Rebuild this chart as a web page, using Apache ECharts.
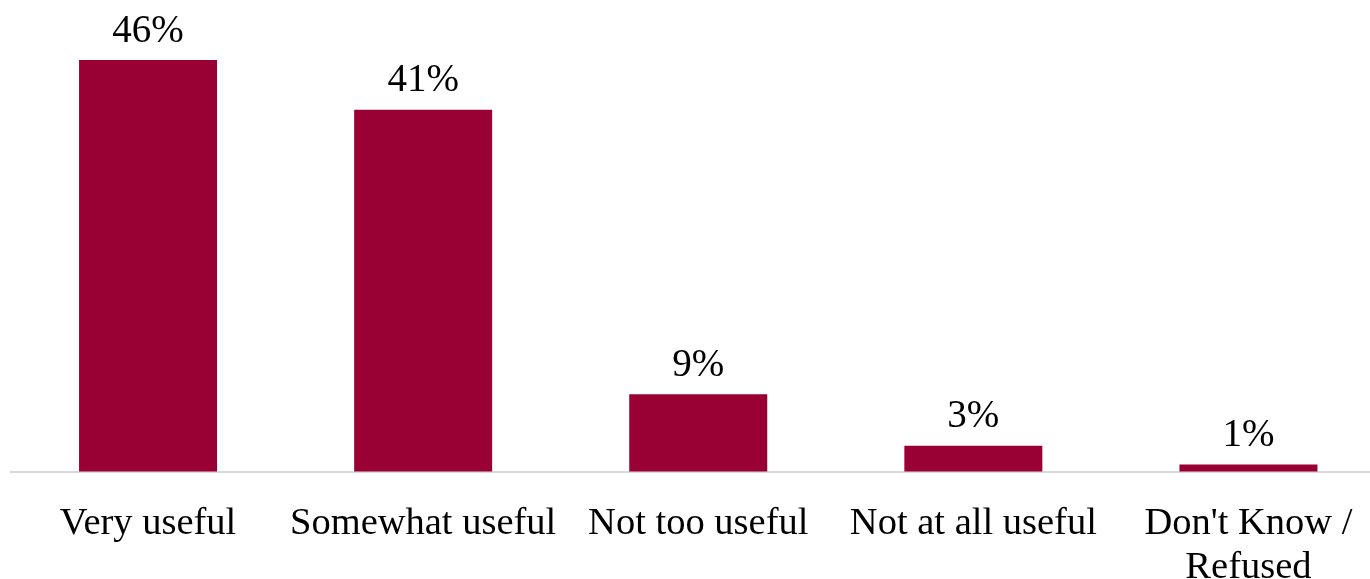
<!DOCTYPE html>
<html>
<head>
<meta charset="utf-8">
<script src="https://cdn.jsdelivr.net/npm/echarts@6/dist/echarts.min.js"></script>
<style>
html,body{margin:0;padding:0;background:#fff;overflow:hidden;width:1370px;height:579px;}
#chart{width:1370px;height:579px;}
</style>
</head>
<body>
<div id="chart"></div>
<script>
var categories = ["Very useful", "Somewhat useful", "Not too useful", "Not at all useful", "Don't Know /\nRefused"];
var values = [46.3, 40.7, 8.7, 2.9, 0.8];

var chart = echarts.init(document.getElementById('chart'), null, {renderer: 'canvas'});
var FONT = '"Liberation Serif", "Times New Roman", serif';
chart.setOption({
  animation: false,
  backgroundColor: '#ffffff',
  grid: {left: 10.5, width: 1375.5, top: 27, height: 444.5, containLabel: false, outerBoundsMode: 'none'},
  xAxis: {
    type: 'category',
    data: categories,
    axisLine: {show: true, lineStyle: {color: '#d9d9d9', width: 2}},
    axisTick: {show: false},
    axisLabel: {
      interval: 0,
      margin: 30,
      color: '#000000',
      fontFamily: FONT,
      fontSize: 38.5,
      lineHeight: 44
    }
  },
  yAxis: {
    type: 'value',
    min: 0,
    max: 50,
    show: false,
    splitLine: {show: false}
  },
  series: [{
    type: 'bar',
    data: values,
    barWidth: 138,
    itemStyle: {color: '#990033'},
    label: {
      show: true,
      position: 'top',
      distance: 9,
      color: '#000000',
      fontFamily: FONT,
      fontSize: 39,
      formatter: function (p) { return Math.round(p.value) + '%'; }
    }
  }]
});
</script>
</body>
</html>
